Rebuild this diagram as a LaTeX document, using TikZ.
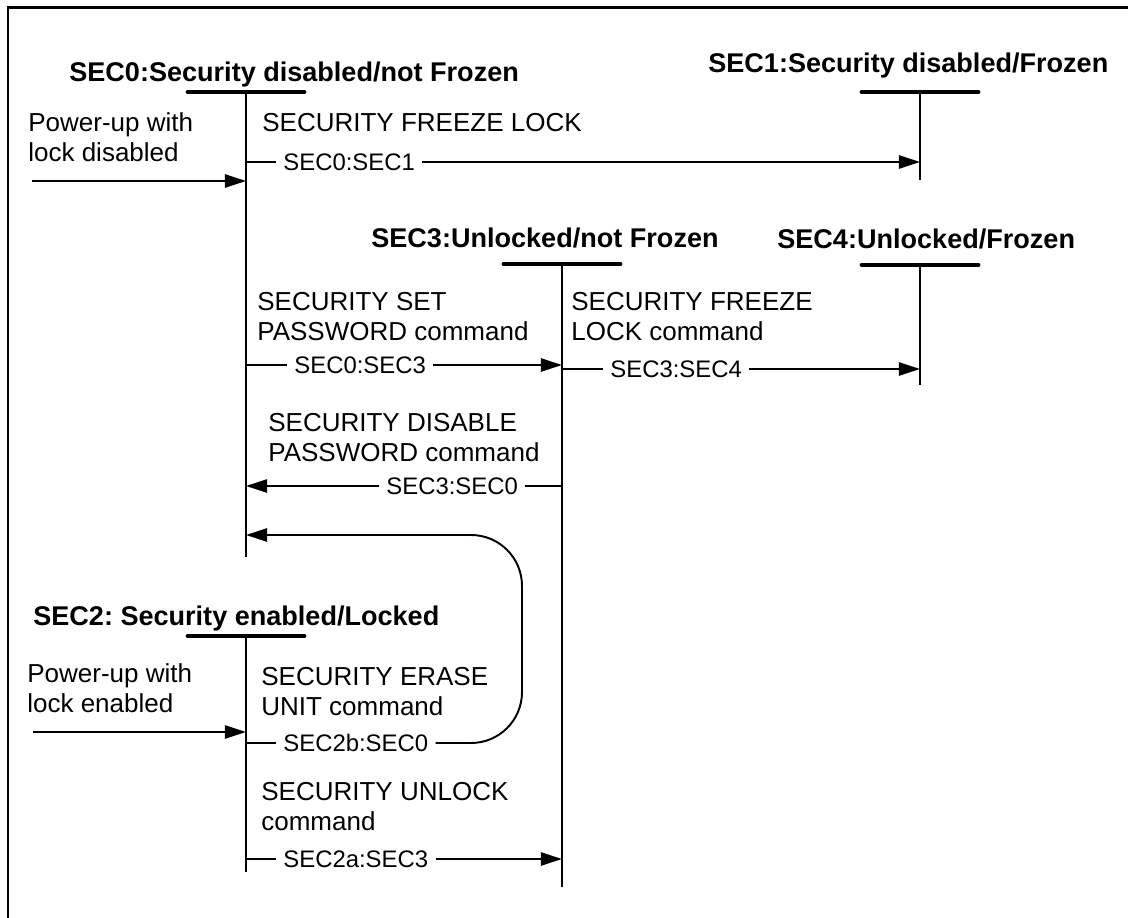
\documentclass[tikz,border=0pt]{standalone}
\usepackage{fontspec}
\setmainfont{Liberation Sans}
\usetikzlibrary{arrows.meta,calc}
\frenchspacing

\begin{document}
\begin{tikzpicture}[
    x=0.02cm, y=-0.02cm,
    state/.style={anchor=base west, inner sep=0pt, font=\fontsize{15.4}{18}\selectfont\bfseries},
    cmd/.style={anchor=north west, inner sep=0pt, align=left, font=\fontsize{14.8}{17}\selectfont},
    trans/.style={anchor=west, inner xsep=4pt, inner ysep=0pt, font=\fontsize{13.6}{16}\selectfont},
    bar/.style={line width=2.8pt, line cap=round},
    life/.style={line width=1.6pt},
    tick/.style={line width=1.4pt},
    arrow/.style={-{Triangle[length=12pt, width=7.5pt]}, line width=1.1pt}
]
    \useasboundingbox (0,0) rectangle (1128,918);
    \draw[line width=1.7pt] (1140,8) -- (8,8) -- (8,930);

    % States
    \node[state] (sec0) at (69,82) {SEC0:Security disabled/not Frozen};
    \node[state] (sec1) at (708,73) {SEC1:Security disabled/Frozen};
    \node[state] (sec3) at (371,248) {SEC3:Unlocked/not Frozen};
    \node[state] (sec4) at (777,249) {SEC4:Unlocked/Frozen};
    \node[state] (sec2) at (33,625) {SEC2: Security enabled/Locked};

    % Lifelines
    \coordinate (s0top) at (246,92);  \coordinate (s0bot) at (246,557);
    \coordinate (s1top) at (920,92);  \coordinate (s1bot) at (920,180);
    \coordinate (s3top) at (562,264); \coordinate (s3bot) at (562,887);
    \coordinate (s4top) at (920,265); \coordinate (s4bot) at (920,385);
    \coordinate (s2top) at (246,636); \coordinate (s2bot) at (246,872);
    \foreach \s in {s0,s1,s3,s4,s2} {
        \draw[bar] ($(\s top)+(-58,0)$) -- ($(\s top)+(58,0)$);
        \draw[life] (\s top) -- (\s bot);
    }

    % Commands
    \node[cmd] (pu0txt) at (28,112) {Power-up with\\lock disabled};
    \node[cmd] (c01) at (262,113) {SECURITY FREEZE LOCK};
    \node[cmd] (c03) at (257,292) {SECURITY SET\\PASSWORD command};
    \node[cmd] (c34) at (571,292) {SECURITY FREEZE\\LOCK command};
    \node[cmd] (c30) at (268,413) {SECURITY DISABLE\\PASSWORD command};
    \node[cmd] (pu2txt) at (27,663) {Power-up with\\lock enabled};
    \node[cmd] (c2b) at (261,667) {SECURITY ERASE\\UNIT command};
    \node[cmd] (c2a) at (261,782) {SECURITY UNLOCK\\command};

    % Transitions
    \node[trans] (t01) at (276,162) {SEC0:SEC1};
    \node[trans] (t03) at (287,365) {SEC0:SEC3};
    \node[trans] (t34) at (603,369) {SEC3:SEC4};
    \node[trans] (t30) at (379,486) {SEC3:SEC0};
    \node[trans] (t2b) at (276,743) {SEC2b:SEC0};
    \node[trans] (t2a) at (276,859) {SEC2a:SEC3};

    % Arrows
    \coordinate (pu0) at (32,181);
    \coordinate (pu2) at (33,732);
    \coordinate (erasein) at (246,535);
    \coordinate (loopr) at (522,640);
    \draw[arrow] (pu0) -- (s0top |- pu0);
    \draw[arrow] (pu2) -- (s2top |- pu2);
    \draw[tick] (s0top |- t01) -- (t01.west);
    \draw[arrow] (t01.east) -- (s1top |- t01);
    \draw[tick] (s0top |- t03) -- (t03.west);
    \draw[arrow] (t03.east) -- (s3top |- t03);
    \draw[tick] (s3top |- t34) -- (t34.west);
    \draw[arrow] (t34.east) -- (s4top |- t34);
    \draw[tick] (s3top |- t30) -- (t30.east);
    \draw[arrow] (t30.west) -- (s0top |- t30);
    \draw[tick] (s2top |- t2b) -- (t2b.west);
    \draw[arrow, rounded corners=29pt] (t2b.east) -- (loopr |- t2b) -- (loopr |- erasein) -- (erasein);
    \draw[tick] (s2top |- t2a) -- (t2a.west);
    \draw[arrow] (t2a.east) -- (s3top |- t2a);
\end{tikzpicture}
\end{document}
